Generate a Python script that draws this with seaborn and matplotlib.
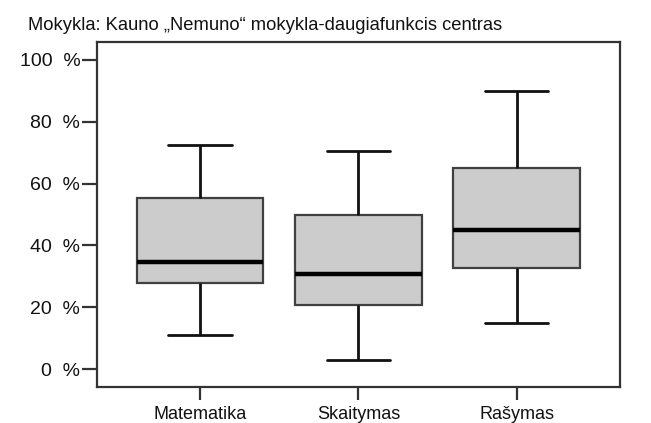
import matplotlib
matplotlib.use("Agg")
import matplotlib.pyplot as plt
import seaborn as sns
import pandas as pd
from matplotlib.ticker import FuncFormatter

categories = ["Matematika", "Skaitymas", "Rašymas"]
# five-number summaries (min, Q1, median, Q3, max) in %
matematika = [11.0, 27.7, 34.6, 55.4, 72.3]
skaitymas = [2.9, 20.7, 30.7, 49.8, 70.6]
rasymas = [15.0, 32.8, 45.0, 65.0, 90.0]
yticks = [0, 20, 40, 60, 80, 100]
title = "Mokykla: Kauno \u201eNemuno\u201c mokykla-daugiafunkcis centras"

df = pd.DataFrame({
    "dalykas": [c for c, v in zip(categories, [matematika, skaitymas, rasymas]) for _ in v],
    "proc": matematika + skaitymas + rasymas,
})

sns.set_style("white")
plt.rcParams["font.family"] = ["Liberation Sans", "DejaVu Sans"]

fig = plt.figure(figsize=(6.51, 4.23), dpi=100)
ax = fig.add_axes([0.149, 0.085, 0.803, 0.816])

sns.boxplot(data=df, x="dalykas", y="proc", order=categories, whis=(0, 100),
            width=0.8, color="#cccccc", saturation=1, ax=ax,
            boxprops=dict(facecolor="#cccccc", edgecolor="#404040", linewidth=1.6),
            medianprops=dict(color="black", linewidth=3.2),
            whiskerprops=dict(color="#111111", linewidth=2.0),
            capprops=dict(color="#111111", linewidth=2.0),
            capwidths=0.4, showfliers=False)

ax.set_xlim(-0.65, 2.65)
ax.set_ylim(-5.8, 105.8)
ax.set_yticks(yticks)
ax.yaxis.set_major_formatter(FuncFormatter(lambda v, p: f"{int(v)}  %"))
ax.set_xlabel("")
ax.set_ylabel("")
for s in ax.spines.values():
    s.set_visible(True)
    s.set_color("#333333")
    s.set_linewidth(1.6)
ax.tick_params(axis="y", left=True, direction="out", length=11, width=1.6, color="#333333",
               labelsize=14, labelcolor="#111111", pad=1)
ax.tick_params(axis="x", bottom=True, direction="out", length=9, width=1.6, color="#333333",
               labelsize=13, labelcolor="#111111", pad=5)
fig.text(28 / 651, 1 - 30 / 423, title, fontsize=13.25, color="#111111",
         ha="left", va="baseline")

fig.savefig("out.png", dpi=100, facecolor="white")
